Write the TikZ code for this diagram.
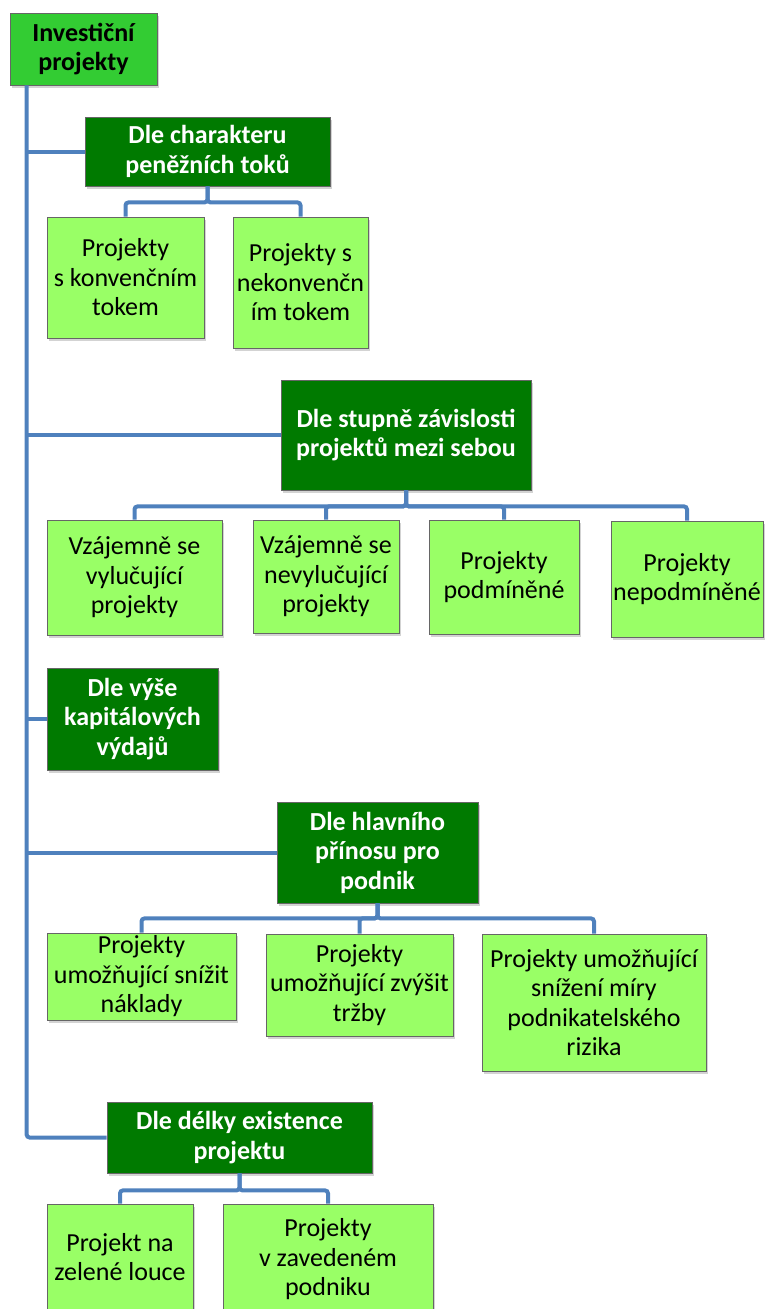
\documentclass[tikz,border=0pt]{standalone}
\usepackage{fontspec}
\setmainfont{Carlito}
\usepackage{xcolor}
\usetikzlibrary{shadows}

\definecolor{rootgreen}{HTML}{33CC33}
\definecolor{darkgreen}{HTML}{007A00}
\definecolor{lightgreen}{HTML}{99FF66}
\definecolor{linkblue}{HTML}{4F81BD}

\tikzset{
  box/.style={draw=black!60, line width=0.8pt, align=center, inner sep=0pt,
    font=\fontsize{26}{29.5}\selectfont,
    drop shadow={shadow xshift=2pt, shadow yshift=-2.5pt, opacity=0.35}},
  rootbox/.style={box, fill=rootgreen, font=\fontsize{26}{29.5}\selectfont\bfseries},
  groupbox/.style={box, fill=darkgreen, text=white, font=\fontsize{26}{29.5}\selectfont\bfseries},
  leafbox/.style={box, fill=lightgreen},
  conn/.style={draw=linkblue, line width=4pt, rounded corners=3pt}
}

\begin{document}
\begin{tikzpicture}[x=1pt, y=-1pt]
\useasboundingbox (0,0) rectangle (766,1309);
\clip (0,0) rectangle (766,1309);

% Root
\node[rootbox, minimum width=147pt, minimum height=72pt] (root) at (83.5,49) {Investiční\\projekty};
\coordinate (trunk) at ([xshift=17pt]root.south west);

% Groups
\node[groupbox, minimum width=245pt, minimum height=69pt] (g1) at (207.5,151.5) {Dle charakteru\\peněžních toků};
\node[groupbox, minimum width=250pt, minimum height=110pt] (g2) at (406,435) {Dle stupně závislosti\\projektů mezi sebou};
\node[groupbox, minimum width=171pt, minimum height=102pt] (g3) at (132.5,719) {Dle výše\\kapitálových\\výdajů};
\node[groupbox, minimum width=201pt, minimum height=101pt] (g4) at (377.5,852.5) {Dle hlavního\\přínosu pro\\podnik};
\node[groupbox, minimum width=265pt, minimum height=71pt] (g5) at (239.5,1137.5) {Dle délky existence\\projektu};

% Leaves of g1
\node[leafbox, minimum width=157pt, minimum height=121pt] (k1) at (125.5,277.5) {Projekty\\s konvenčním\\tokem};
\node[leafbox, minimum width=135pt, minimum height=131pt] (k2) at (300.5,282.5) {Projekty s\\nekonvenčn\\ím tokem};

% Leaves of g2
\node[leafbox, minimum width=175pt, minimum height=115pt] (z1) at (134.5,577.5) {Vzájemně se\\vylučující\\projekty};
\node[leafbox, minimum width=146pt, minimum height=113pt] (z2) at (326,576.5) {Vzájemně se\\nevylučující\\projekty};
\node[leafbox, minimum width=150pt, minimum height=114pt] (z3) at (504,577) {Projekty\\podmíněné};
\node[leafbox, minimum width=152pt, minimum height=116pt] (z4) at (687,579) {Projekty\\nepodmíněné};

% Leaves of g4
\node[leafbox, minimum width=189pt, minimum height=87pt] (p1) at (141.5,976.5) {Projekty\\umožňující snížit\\náklady};
\node[leafbox, minimum width=187pt, minimum height=102pt] (p2) at (359.5,985) {Projekty\\umožňující zvýšit\\tržby};
\node[leafbox, minimum width=224pt, minimum height=137pt] (p3) at (594,1002.5) {Projekty umožňující\\snížení míry\\podnikatelského\\rizika};

% Leaves of g5
\node[leafbox, minimum width=146pt, minimum height=106pt] (e1) at (120,1257) {Projekt na\\zelené louce};
\node[leafbox, minimum width=210pt, minimum height=111pt] (e2) at (328,1259.5) {Projekty\\v zavedeném\\podniku};

% Trunk and branches
\draw[conn] (trunk) |- (g5.west);
\draw[conn] (g1.west) -- (g1.west -| trunk);
\draw[conn] (g2.west) -- (g2.west -| trunk);
\draw[conn] (g3.west) -- (g3.west -| trunk);
\draw[conn] (g4.west) -- (g4.west -| trunk);

% Sub-branches
\draw[conn] (g1.south) -- ++(0,16) -| (k1.north);
\draw[conn] (g1.south) -- ++(0,16) -| (k2.north);
\foreach \n in {z1,z2,z3,z4}
  \draw[conn] (g2.south) -- ++(0,16) -| (\n.north);
\foreach \n in {p1,p2,p3}
  \draw[conn] (g4.south) -- ++(0,15) -| (\n.north);
\draw[conn] (g5.south) -- ++(0,17) -| (e1.north);
\draw[conn] (g5.south) -- ++(0,17) -| (e2.north);
\end{tikzpicture}
\end{document}
